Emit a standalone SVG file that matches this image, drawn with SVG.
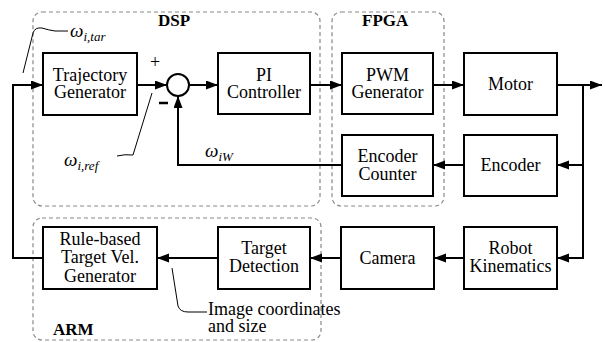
<svg xmlns="http://www.w3.org/2000/svg" width="605" height="342" viewBox="0 0 605 342" font-family="Liberation Serif, Times New Roman, serif">
<style>
.box{fill:#fff;stroke:#000;stroke-width:2}
.grp{fill:none;stroke:#888;stroke-width:1.2;stroke-dasharray:4 3}
.t{font-size:18px;text-anchor:middle}
.lbl{font-size:17px;font-weight:bold}
.sym{font-style:italic;font-size:19px}
.sub{font-size:13px}
.ann{font-size:18px}
.w{fill:none;stroke:#000;stroke-width:2}
.thin{fill:none;stroke:#000;stroke-width:1}
</style>
<defs>
<marker id="ah" markerUnits="userSpaceOnUse" markerWidth="13" markerHeight="10" refX="12" refY="4.5" orient="auto">
<path d="M0,0 L12,4.5 L0,9 z" fill="#000"/>
</marker>
</defs>
<rect width="605" height="342" fill="#fff"/>
<g id="groups">
<rect class="grp" x="33" y="12" width="287" height="194" rx="9"/>
<rect class="grp" x="332" y="12" width="112" height="194" rx="9"/>
<rect class="grp" x="33" y="218" width="288" height="122" rx="9"/>
<text class="lbl" x="158" y="26" font-family="Liberation Serif">DSP</text>
<text class="lbl" x="362" y="26" font-family="Liberation Serif">FPGA</text>
<text class="lbl" x="53" y="335" font-family="Liberation Serif">ARM</text>
</g>
<g id="connectors">
<path class="w" d="M43,258 H13 V85 H43" marker-end="url(#ah)"/>
<path class="w" d="M137,85 H167" marker-end="url(#ah)"/>
<path class="w" d="M189,85 H218" marker-end="url(#ah)"/>
<path class="w" d="M310,85 H342" marker-end="url(#ah)"/>
<path class="w" d="M433,85 H464" marker-end="url(#ah)"/>
<path class="w" d="M557,85 H602" marker-end="url(#ah)"/>
<path class="w" d="M583,85 V258 H557" marker-end="url(#ah)"/>
<path class="w" d="M583,165 H557" marker-end="url(#ah)"/>
<path class="w" d="M464,165 H433" marker-end="url(#ah)"/>
<path class="w" d="M342,165 H178 V96" marker-end="url(#ah)"/>
<path class="w" d="M464,258 H434" marker-end="url(#ah)"/>
<path class="w" d="M341,258 H310" marker-end="url(#ah)"/>
<path class="w" d="M218,258 H157" marker-end="url(#ah)"/>
<path class="thin" d="M23,73 L33,33 Q35,27 42,28 Q48,30 55,31 L68,31"/>
<path class="thin" d="M117,156 Q125,154 133,155 L152,93"/>
<path class="thin" d="M172,268 L178,306 Q180,312 188,312 L207,312"/>
</g>
<g id="sum">
<circle cx="178" cy="85" r="11" fill="#fff" stroke="#000" stroke-width="2"/>
<text x="150" y="68" font-size="18">+</text>
<path d="M159,103 H168" stroke="#000" stroke-width="2.5"/>
</g>
<g id="traj"><rect class="box" x="43" y="53" width="94" height="62"/>
<text class="t" x="90" y="81">Trajectory</text><text class="t" x="90" y="98">Generator</text></g>
<g id="pi"><rect class="box" x="218" y="53" width="92" height="61"/>
<text class="t" x="264" y="81">PI</text><text class="t" x="264" y="98">Controller</text></g>
<g id="pwm"><rect class="box" x="342" y="53" width="91" height="61"/>
<text class="t" x="387.5" y="81">PWM</text><text class="t" x="387.5" y="98">Generator</text></g>
<g id="motor"><rect class="box" x="464" y="53" width="93" height="62"/>
<text class="t" x="510.5" y="90">Motor</text></g>
<g id="encoder"><rect class="box" x="464" y="135" width="93" height="61"/>
<text class="t" x="510.5" y="171">Encoder</text></g>
<g id="enccount"><rect class="box" x="342" y="135" width="91" height="61"/>
<text class="t" x="387.5" y="162">Encoder</text><text class="t" x="387.5" y="180">Counter</text></g>
<g id="rule"><rect class="box" x="43" y="227" width="114" height="62"/>
<text class="t" x="100" y="245">Rule-based</text><text class="t" x="100" y="263">Target Vel.</text><text class="t" x="100" y="282">Generator</text></g>
<g id="target"><rect class="box" x="218" y="227" width="92" height="62"/>
<text class="t" x="264" y="254">Target</text><text class="t" x="264" y="272">Detection</text></g>
<g id="camera"><rect class="box" x="341" y="227" width="93" height="62"/>
<text class="t" x="387.5" y="264">Camera</text></g>
<g id="robot"><rect class="box" x="464" y="227" width="93" height="62"/>
<text class="t" x="510.5" y="254">Robot</text><text class="t" x="510.5" y="272">Kinematics</text></g>
<g id="labels">
<text class="sym" x="70" y="37">ω<tspan class="sub" dy="4">i,tar</tspan></text>
<text class="sym" x="64" y="166">ω<tspan class="sub" dy="4">i,ref</tspan></text>
<text class="sym" x="205" y="157">ω<tspan class="sub" dy="4">iW</tspan></text>
<text class="ann" x="208" y="315">Image coordinates</text>
<text class="ann" x="208" y="332">and size</text>
</g>
</svg>
